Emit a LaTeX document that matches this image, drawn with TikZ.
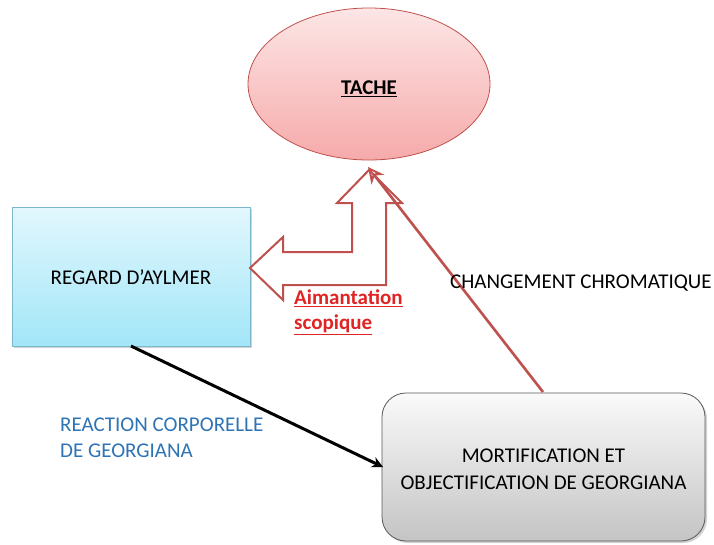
\documentclass[tikz,border=0pt]{standalone}
\usepackage{fontspec}
\setmainfont{Carlito}
\usetikzlibrary{shapes.geometric,arrows.meta,shadows}
\definecolor{ellbord}{HTML}{C0504D}
\definecolor{elltop}{HTML}{FDE6E6}
\definecolor{ellbot}{HTML}{F6AAAA}
\definecolor{bluetop}{HTML}{E2F7FD}
\definecolor{bluebot}{HTML}{A2E6F8}
\definecolor{bluebord}{HTML}{7BB8CC}
\definecolor{graytop}{HTML}{FAFAFA}
\definecolor{graybot}{HTML}{C4C4C4}
\definecolor{arrred}{HTML}{C0504D}
\definecolor{labred}{HTML}{E02424}
\definecolor{labblue}{HTML}{2E74B5}
\tikzset{
  base/.style={font=\fontsize{21}{27}\selectfont, text=black},
  ellnode/.style={ellipse, draw=ellbord, line width=0.8pt, top color=elltop, bottom color=ellbot, minimum width=242pt, minimum height=152pt, inner sep=0pt},
  bluebox/.style={rectangle, draw=bluebord, line width=0.8pt, top color=bluetop, bottom color=bluebot, minimum width=238pt, minimum height=139pt, inner sep=0pt, drop shadow={shadow xshift=2pt, shadow yshift=-2pt, opacity=0.35}},
  graybox/.style={rectangle, rounded corners=24pt, draw=black!65, line width=0.8pt, top color=graytop, bottom color=graybot, minimum width=323pt, minimum height=148pt, inner sep=0pt, align=center, drop shadow={shadow xshift=2pt, shadow yshift=-2pt, opacity=0.35}},
  redarrow/.style={draw=arrred, line width=2.6pt, -{Stealth[length=16pt, width=16pt, open, line width=2pt]}},
  blackarrow/.style={draw=black, line width=3pt, -{Stealth[length=11pt, width=11pt, open, line width=2pt]}},
  blockarrow/.style={draw=arrred, line width=2pt, fill=white, line join=miter},
  lab/.style={font=\fontsize{21}{26}\selectfont, align=left, inner sep=0pt}
}
\begin{document}
\begin{tikzpicture}[x=1pt, y=-1pt]
\useasboundingbox (0,0) rectangle (714,544);
\fill[white] (0,0) rectangle (714,544);
% nodes
\node[ellnode] (tache) at (369,84) {};
\node[base, font=\bfseries\fontsize{21}{26}\selectfont] (tachelab) at (369,89) {\underline{TACHE}};
\node[bluebox] (regard) at (131,276.5) {};
\node[base] (regardlab) at (131,277) {REGARD D’AYLMER};
\node[graybox] (mort) at (543.5,467) {};
\node[base, align=center] (mortlab) at (543.5,469) {MORTIFICATION ET\\OBJECTIFICATION DE GEORGIANA};
% block arrow
\draw[blockarrow] (250,268) -- (283,237) -- (283,252) -- (352,252) -- (352,203) -- (337,203) -- (369,170) -- (402,203) -- (386,203) -- (386,285) -- (283,285) -- (283,300) -- cycle;
% arrows
\coordinate (redstart) at (543,392);
\coordinate (redend) at (368,167);
\draw[redarrow] (redstart) -- (redend);
\coordinate (blkstart) at (131,346);
\coordinate (blkend) at (383,467);
\draw[blackarrow] (blkstart) -- (blkend);
% labels
\node[lab, text=labred, anchor=north west, font=\bfseries\fontsize{21}{25}\selectfont] (aim) at (294,290) {\underline{Aimantation}\\\underline{scopique}};
\node[lab, anchor=west] (chrom) at (450,283) {CHANGEMENT CHROMATIQUE};
\node[lab, text=labblue, anchor=north west] (react) at (60,418) {REACTION CORPORELLE\\DE GEORGIANA};
\end{tikzpicture}
\end{document}
